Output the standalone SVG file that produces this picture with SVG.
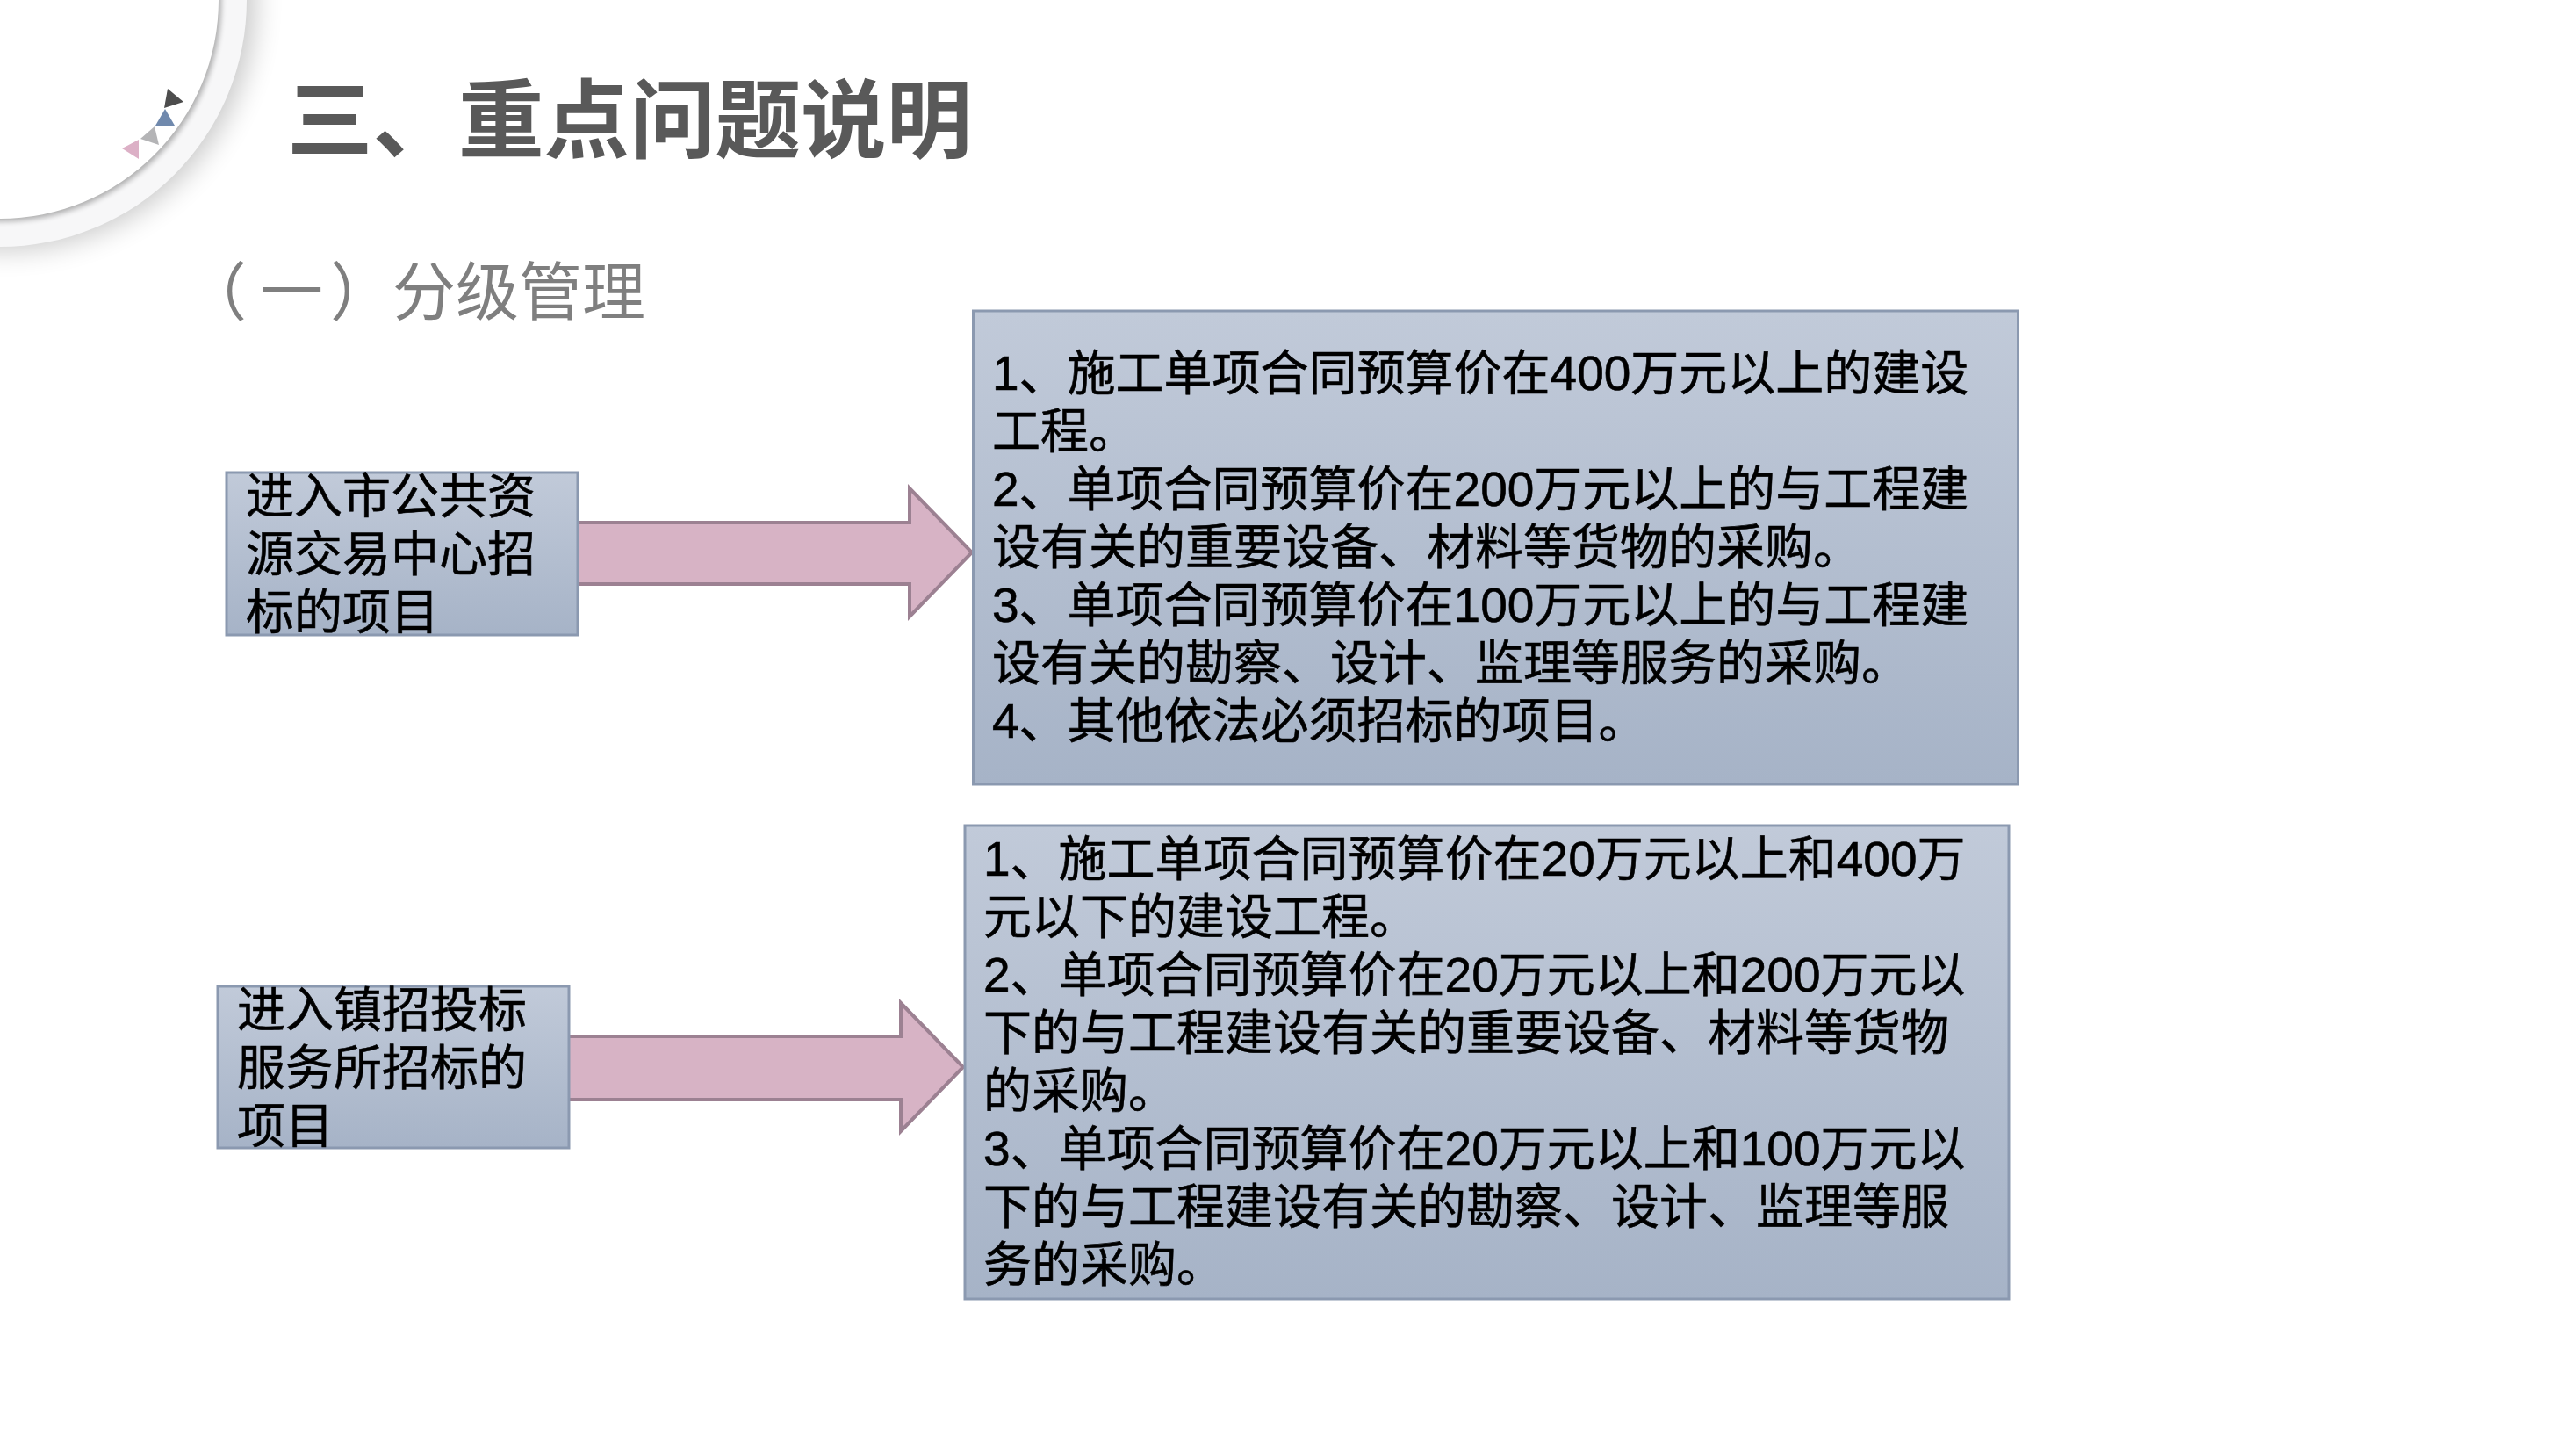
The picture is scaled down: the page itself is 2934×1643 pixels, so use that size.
<svg xmlns="http://www.w3.org/2000/svg" width="2934" height="1643" viewBox="0 0 2934 1643">
<style>
text{font-family:"Liberation Sans","Noto Sans CJK SC",sans-serif;fill:#000;stroke:#000;stroke-width:.6px;font-size:55px}
.box{fill:url(#bg);stroke:#8b99b0;stroke-width:3}
.arrow{fill:#d7b3c5;stroke:#9c8192;stroke-width:4}
</style>
<defs>
<linearGradient id="bg" x1="0" y1="0" x2="0" y2="1"><stop offset="0" stop-color="#c1cad9"/><stop offset="1" stop-color="#a6b3c7"/></linearGradient>
<filter id="blur" x="-30%" y="-30%" width="160%" height="160%"><feGaussianBlur stdDeviation="16"/></filter>
<filter id="blur2" x="-10%" y="-10%" width="120%" height="120%"><feGaussianBlur stdDeviation="3"/></filter>
</defs>
<rect width="2934" height="1643" fill="#fff"/>
<g id="corner">
<circle cx="6" cy="0" r="284" fill="#000" opacity=".22" filter="url(#blur)"/>
<circle cx="0" cy="0" r="281" fill="#f7f7f8"/>
<circle cx="2" cy="2" r="250" fill="#000" opacity=".3" filter="url(#blur2)"/>
<circle cx="0" cy="0" r="249" fill="#fff"/>
<polygon points="191,101 209,116 187,123" fill="#4d4d4d"/>
<polygon points="188,124 199,143 177,143" fill="#7089ad"/>
<polygon points="176,144 181,165 160,158" fill="#b4b4b6"/>
<polygon points="158,159 158,181 139,169" fill="#dcb0c6"/>
</g>
<g id="title"><text x="327" y="172" style="font-size:97.500px;font-weight:700;fill:#595959;stroke:none;font-family:'Noto Sans CJK SC',sans-serif">三、重点问题说明</text></g>
<g id="subtitle"><text x="209 296 376 447 519 591 663" y="358" style="font-size:72px;fill:#7f7f7f;stroke:none;font-family:'Noto Sans CJK SC',sans-serif">（一）分级管理</text></g>
<g id="connectors">
<polygon class="arrow" points="657,595 1036,595 1036,556 1107,629 1036,702 1036,665 657,665"/>
<polygon class="arrow" points="646,1180 1026,1180 1026,1142 1097,1215 1026,1288 1026,1252 646,1252"/>
</g>
<g id="node-city"><rect class="box" x="258" y="538" width="400" height="185"/>
<text x="280" y="584">进入市公共资</text><text x="280" y="650">源交易中心招</text><text x="280" y="716">标的项目</text></g>
<g id="node-city-detail"><rect class="box" x="1108.500" y="354" width="1190" height="539"/>
<text x="1130" y="444">1、施工单项合同预算价在400万元以上的建设</text>
<text x="1130" y="510">工程。</text>
<text x="1130" y="576">2、单项合同预算价在200万元以上的与工程建</text>
<text x="1130" y="642">设有关的重要设备、材料等货物的采购。</text>
<text x="1130" y="708">3、单项合同预算价在100万元以上的与工程建</text>
<text x="1130" y="774">设有关的勘察、设计、监理等服务的采购。</text>
<text x="1130" y="840">4、其他依法必须招标的项目。</text></g>
<g id="node-town"><rect class="box" x="248" y="1123" width="400" height="184"/>
<text x="270" y="1169">进入镇招投标</text><text x="270" y="1235">服务所招标的</text><text x="270" y="1301">项目</text></g>
<g id="node-town-detail"><rect class="box" x="1099" y="940" width="1189" height="539"/>
<text x="1120" y="997">1、施工单项合同预算价在20万元以上和400万</text>
<text x="1120" y="1063">元以下的建设工程。</text>
<text x="1120" y="1129">2、单项合同预算价在20万元以上和200万元以</text>
<text x="1120" y="1195">下的与工程建设有关的重要设备、材料等货物</text>
<text x="1120" y="1261">的采购。</text>
<text x="1120" y="1327">3、单项合同预算价在20万元以上和100万元以</text>
<text x="1120" y="1393">下的与工程建设有关的勘察、设计、监理等服</text>
<text x="1120" y="1459">务的采购。</text></g>
</svg>
